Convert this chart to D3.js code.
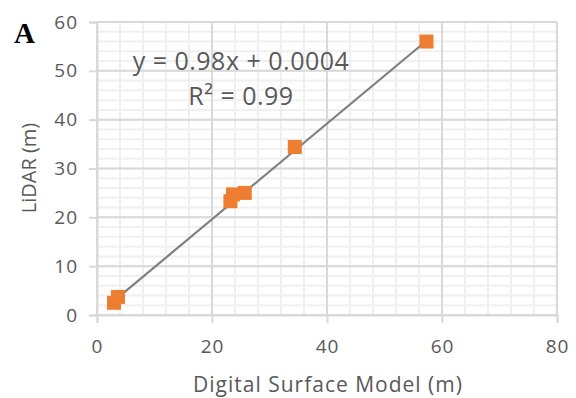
<!DOCTYPE html>
<html>
<head>
<meta charset="utf-8">
<script src="https://cdn.jsdelivr.net/npm/d3@7"></script>
<style>
  body { margin: 0; background: #fff; }
</style>
</head>
<body>
<div id="chart"></div>
<script>
// data
const dsm   = [2.96, 3.65, 23.2, 23.65, 25.7, 34.4, 57.3];
const lidar = [2.5, 3.7, 23.3, 24.7, 25.0, 34.4, 56.0];
const xTicks = [0, 20, 40, 60, 80];
const yTicks = [0, 10, 20, 30, 40, 50, 60];
const slope = 0.98, intercept = 0.0004;

const width = 576, height = 398;
const margin = { top: 22, right: 19, bottom: 83, left: 97 };
const w = width - margin.left - margin.right;
const h = height - margin.top - margin.bottom;
const font = "Open Sans, sans-serif";

const svg = d3.select("#chart").append("svg").attr("width", width).attr("height", height);
const g = svg.append("g").attr("transform", "translate(" + margin.left + "," + margin.top + ")");

const x = d3.scaleLinear().domain([0, 80]).range([0, w]);
const y = d3.scaleLinear().domain([0, 60]).range([h, 0]);

// minor grid
g.selectAll(".minx").data(d3.range(0, 81, 4)).enter().append("line")
  .attr("x1", d => x(d)).attr("x2", d => x(d)).attr("y1", 0).attr("y2", h)
  .attr("stroke", "#f0f0f0").attr("stroke-width", 2);
g.selectAll(".miny").data(d3.range(0, 61, 2)).enter().append("line")
  .attr("y1", d => y(d)).attr("y2", d => y(d)).attr("x1", 0).attr("x2", w)
  .attr("stroke", "#f0f0f0").attr("stroke-width", 2);

// major grid
g.selectAll(".majx").data(xTicks).enter().append("line")
  .attr("x1", d => x(d)).attr("x2", d => x(d)).attr("y1", 0).attr("y2", h)
  .attr("stroke", "#d9d9d9").attr("stroke-width", 2);
g.selectAll(".majy").data(yTicks).enter().append("line")
  .attr("y1", d => y(d)).attr("y2", d => y(d)).attr("x1", 0).attr("x2", w)
  .attr("stroke", "#d9d9d9").attr("stroke-width", 2);

// axes
const xAxis = g.append("g").attr("transform", "translate(0," + h + ")")
  .call(d3.axisBottom(x).tickValues(xTicks).tickSize(8).tickPadding(17));
const yAxis = g.append("g")
  .call(d3.axisLeft(y).tickValues(yTicks).tickSize(8).tickPadding(11));
[xAxis, yAxis].forEach(a => {
  a.select(".domain").attr("stroke", "#d9d9d9").attr("stroke-width", 2);
  a.selectAll(".tick line").attr("stroke", "#d9d9d9").attr("stroke-width", 2);
  a.selectAll(".tick text").attr("font-size", 19).attr("fill", "#595959")
    .attr("font-family", font).attr("letter-spacing", 1);
});

// trendline
const x0 = d3.min(dsm), x1 = d3.max(dsm);
g.append("line")
  .attr("x1", x(x0)).attr("y1", y(slope * x0 + intercept))
  .attr("x2", x(x1)).attr("y2", y(slope * x1 + intercept))
  .attr("stroke", "#7f7f7f").attr("stroke-width", 2.2);

// points
const s = 14;
g.selectAll(".pt").data(dsm).enter().append("rect")
  .attr("x", (d, i) => x(d) - s / 2).attr("y", (d, i) => y(lidar[i]) - s / 2)
  .attr("width", s).attr("height", s).attr("fill", "#ed7d31");

// equation
svg.append("text").attr("x", 241).attr("y", 70).attr("text-anchor", "middle")
  .attr("font-family", font).attr("fill", "#595959").attr("letter-spacing", 0.5)
  .attr("font-size", 25).text("y = 0.98x + 0.0004");
svg.append("text").attr("x", 241).attr("y", 105).attr("text-anchor", "middle")
  .attr("font-family", font).attr("fill", "#595959").attr("letter-spacing", 0.5)
  .attr("font-size", 25).text("R² = 0.99");

// axis titles
svg.append("text").attr("x", 328).attr("y", 392).attr("text-anchor", "middle")
  .attr("font-family", font).attr("fill", "#595959").attr("letter-spacing", 1)
  .attr("font-size", 21).text("Digital Surface Model (m)");
svg.append("text").attr("transform", "translate(36,168) rotate(-90)").attr("text-anchor", "middle")
  .attr("font-family", font).attr("fill", "#595959")
  .attr("font-size", 20).text("LiDAR (m)");

// panel letter
svg.append("text").attr("x", 14).attr("y", 43)
  .attr("font-family", "Liberation Serif, serif").attr("font-weight", "bold")
  .attr("font-size", 29).attr("fill", "#000").text("A");
</script>
</body>
</html>
